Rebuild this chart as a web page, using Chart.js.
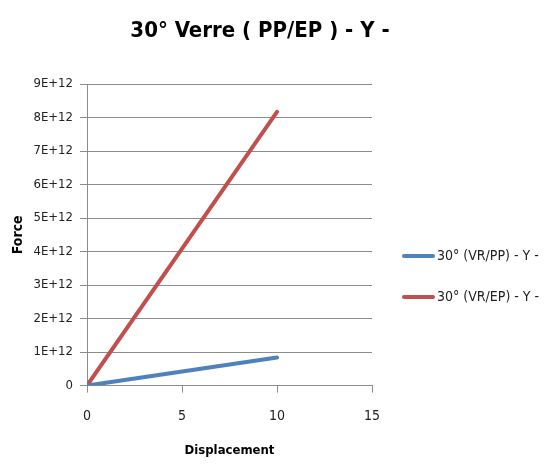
<!DOCTYPE html>
<html>
<head>
<meta charset="utf-8">
<script src="https://cdn.jsdelivr.net/npm/chart.js@4/dist/chart.umd.min.js"></script>
<style>
  html, body { margin: 0; padding: 0; background: #fff; }
  #wrap { width: 548px; height: 464px; }
</style>
</head>
<body>
<div id="wrap"><canvas id="graphe"></canvas></div>
<script>
const displacement = [0, 10];
const forcePP = [0, 0.84e12];
const forceEP = [0, 8.17e12];
const seriesLabels = ['30° (VR/PP) - Y -', '30° (VR/EP) - Y -'];
const seriesColors = ['#4F81BD', '#C0504D'];
const titre = '30° Verre ( PP/EP ) - Y -';

const police = "'Liberation Sans Narrow', 'DejaVu Sans Condensed', 'Liberation Sans', sans-serif";
const gris = '#8c8c8c';

function points(xs, ys) {
    return xs.map(function (x, i) { return { x: x, y: ys[i] }; });
}

// title and legend drawn by hand: the title is centred on the whole picture,
// the legend sits to the right of the plot (short thick line + label)
const decor = {
    id: 'decor',
    afterDraw: function (chart) {
        const ctx = chart.ctx;
        ctx.save();
        ctx.fillStyle = '#000';
        ctx.font = 'bold 22px ' + police;
        ctx.textAlign = 'center';
        ctx.textBaseline = 'middle';
        ctx.fillText(titre, 260, 31);

        const ys = [256, 297];
        ctx.textAlign = 'left';
        chart.data.datasets.forEach(function (ds, i) {
            ctx.strokeStyle = ds.borderColor;
            ctx.lineWidth = 4;
            ctx.lineCap = 'round';
            ctx.beginPath();
            ctx.moveTo(404, ys[i]);
            ctx.lineTo(433, ys[i]);
            ctx.stroke();
            ctx.fillStyle = '#222';
            ctx.font = '14px ' + police;
            ctx.fillText(ds.label, 437, ys[i]);
        });
        ctx.restore();
    }
};

const ctx = document.getElementById('graphe').getContext('2d');

new Chart(ctx, {
    type: 'scatter',
    data: {
        datasets: [{
            label: seriesLabels[0],
            data: points(displacement, forcePP),
            borderColor: seriesColors[0],
            backgroundColor: seriesColors[0],
            showLine: true,
            borderWidth: 4,
            pointRadius: 0,
            borderCapStyle: 'round'
        },
        {
            label: seriesLabels[1],
            data: points(displacement, forceEP),
            borderColor: seriesColors[1],
            backgroundColor: seriesColors[1],
            showLine: true,
            borderWidth: 4,
            pointRadius: 0,
            borderCapStyle: 'round'
        }]
    },
    plugins: [decor],
    options: {
        responsive: true,
        maintainAspectRatio: false,
        animation: false,
        layout: {
            padding: { left: 10, right: 176, top: 84, bottom: 6 }
        },
        plugins: {
            legend: { display: false },
            tooltip: { enabled: false },
            title: { display: false }
        },
        scales: {
            x: {
                type: 'linear',
                min: 0,
                max: 15,
                ticks: {
                    stepSize: 5,
                    color: '#222',
                    font: { family: police, size: 14 },
                    padding: 15
                },
                grid: {
                    color: 'transparent',
                    tickColor: gris,
                    tickLength: 7
                },
                border: { color: gris },
                title: {
                    display: true,
                    text: 'Displacement',
                    color: '#000',
                    font: { family: police, size: 13, weight: 'bold' },
                    padding: { top: 3, bottom: 0 }
                }
            },
            y: {
                min: 0,
                max: 9e12,
                afterFit: function (scale) { scale.width = 77; },
                ticks: {
                    stepSize: 1e12,
                    color: '#222',
                    font: { family: police, size: 13 },
                    padding: 7,
                    callback: function (v) {
                        return v === 0 ? '0' : Math.round(v / 1e12) + 'E+12';
                    }
                },
                grid: {
                    color: gris,
                    tickColor: gris,
                    tickLength: 7
                },
                border: { color: gris },
                title: {
                    display: true,
                    text: 'Force',
                    color: '#000',
                    font: { family: police, size: 14, weight: 'bold' },
                    padding: { top: 0, bottom: 0 }
                }
            }
        }
    }
});
</script>
</body>
</html>
